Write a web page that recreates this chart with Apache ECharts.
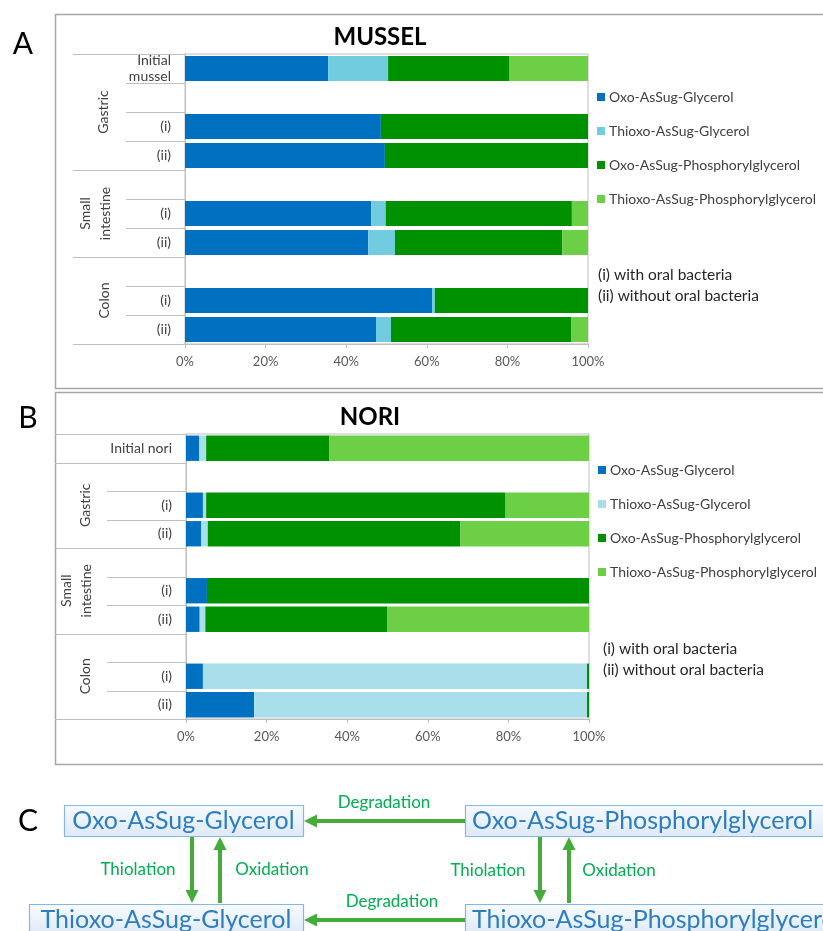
<!DOCTYPE html>
<html><head><meta charset="utf-8">
<script src="https://cdn.jsdelivr.net/npm/echarts@6/dist/echarts.min.js"></script>
<style>html,body{margin:0;padding:0;background:#fff}#c{width:823px;height:931px}</style>
</head><body><div id="c"></div>
<script>
// ---------- data ----------
const categoriesA = ['Initial\nmussel', '', '(i)', '(ii)', '', '(i)', '(ii)', '', '(i)', '(ii)'];
const categoriesB = ['Initial nori', '', '(i)', '(ii)', '', '(i)', '(ii)', '', '(i)', '(ii)'];
const seriesNames = ['Oxo-AsSug-Glycerol', 'Thioxo-AsSug-Glycerol', 'Oxo-AsSug-Phosphorylglycerol', 'Thioxo-AsSug-Phosphorylglycerol'];
const xTicks = [0, 20, 40, 60, 80, 100];

const musselOxoGly    = [35.5, null, 48.6, 49.6, null, 46.2, 45.5, null, 61.3, 47.4];
const musselThioxoGly = [14.9, null, 0,    0,    null, 3.6,  6.6,  null, 0.7,  3.7];
const musselOxoPG     = [30.0, null, 51.4, 50.4, null, 46.2, 41.5, null, 38.0, 44.7];
const musselThioxoPG  = [19.6, null, 0,    0,    null, 4.0,  6.4,  null, 0,    4.2];

const noriOxoGly    = [3.3,  null, 4.2,  3.8,  null, 5.2,  3.4,  null, 4.2,  16.9];
const noriThioxoGly = [1.7,  null, 0.8,  1.6,  null, 0,    1.4,  null, 95.3, 82.6];
const noriOxoPG     = [30.6, null, 74.3, 62.7, null, 94.8, 45.2, null, 0.5,  0.5];
const noriThioxoPG  = [64.4, null, 20.7, 31.9, null, 0,    50.0, null, 0,    0];

const groupsA = ['Gastric', 'Small\nintestine', 'Colon'];
const groupsB = ['Gastric', 'Small\nintestine', 'Colon'];
const notes = ['(i) with oral bacteria', '(ii) without oral bacteria'];

// ---------- style ----------
const FONT = 'Lato';
const colorsA = ['#0070c0', '#72cce0', '#009100', '#6dcf45'];
const colorsB = ['#0070c0', '#a8dfea', '#009100', '#6dcf45'];
const gA = {left: 185, top: 54, width: 403, height: 290};
const gB = {left: 186, top: 434, width: 403, height: 285};
const LINE = '#bfbfbf';

const chart = echarts.init(document.getElementById('c'));

function xAxisFor(gi) {
  return {
    type: 'value', gridIndex: gi, min: xTicks[0], max: xTicks[xTicks.length - 1], interval: 20,
    axisLine: {show: true, lineStyle: {color: LINE}},
    axisTick: {show: true, length: 4, lineStyle: {color: LINE}},
    splitLine: {show: false},
    axisLabel: {formatter: '{value}%', color: '#595959', fontSize: 13, fontFamily: FONT, margin: 11}
  };
}
function yAxisFor(gi, cats) {
  return {
    type: 'category', gridIndex: gi, data: cats, inverse: true,
    axisLine: {show: true, lineStyle: {color: LINE}},
    axisTick: {show: false},
    axisLabel: {color: '#404040', fontSize: 14, fontFamily: FONT, margin: 14, lineHeight: 16, align: 'right'}
  };
}
function mkSeries(gi, arrs, colors, gap) {
  return arrs.map((d, i) => ({
    name: seriesNames[i], type: 'bar', stack: 'g' + gi, xAxisIndex: gi, yAxisIndex: gi,
    data: d, barCategoryGap: gap, itemStyle: {color: colors[i]}, silent: true, animation: false
  }));
}

// separators
function sepLines(g, rows, longKeys, longX, shortX) {
  const out = [];
  const h = g.height / rows;
  for (let k = 0; k <= rows; k++) {
    const y = Math.round(g.top + k * h) + 0.5;
    const x1 = longKeys.includes(k) ? longX : shortX;
    out.push({type: 'line', shape: {x1: x1, y1: y, x2: g.left, y2: y}, style: {stroke: LINE, lineWidth: 1}, silent: true});
  }
  return out;
}
function groupLabels(g, rows, names, spans, xs) {
  const h = g.height / rows;
  return names.map((n, i) => ({
    type: 'text', x: xs[i], y: g.top + (spans[i][0] + spans[i][1]) / 2 * h, rotation: Math.PI / 2,
    style: {text: n, fill: '#404040', font: '14px ' + FONT, textAlign: 'center', textVerticalAlign: 'middle', lineHeight: 20}
  }));
}
function txt(x, y, s, font, fill, align) {
  return {type: 'text', x: x, y: y, style: {text: s, font: font, fill: fill || '#000', textAlign: align || 'left', textVerticalAlign: 'middle'}, silent: true};
}
const ARROW = '#45ab3a';
function arrow(x1, y1, x2, y2) {
  const dx = x2 - x1, dy = y2 - y1, L = Math.hypot(dx, dy), ux = dx / L, uy = dy / L;
  const hl = 13, hw = 6.5;
  const bx = x2 - ux * hl, by = y2 - uy * hl;
  return [
    {type: 'line', shape: {x1: x1, y1: y1, x2: bx, y2: by}, style: {stroke: ARROW, lineWidth: 4}, silent: true},
    {type: 'polygon', shape: {points: [[x2, y2], [bx - uy * hw, by + ux * hw], [bx + uy * hw, by - ux * hw]]}, style: {fill: ARROW}, silent: true}
  ];
}
const boxFill = {type: 'linear', x: 0, y: 0, x2: 0, y2: 1, colorStops: [{offset: 0, color: '#f7fbff'}, {offset: 1, color: '#dde9f6'}]};
function box(x, y, w, h) {
  return {type: 'rect', shape: {x: x + 0.5, y: y + 0.5, width: w, height: h}, style: {fill: boxFill, stroke: '#86b7e0', lineWidth: 1.2}, silent: true};
}
const BOXTXT = '#2e7dbf';
const GRN = '#00b050';
const NOTEF = '15.5px ' + FONT;
const CF = '25px ' + FONT;
const GF = '17px ' + FONT;

const graphics = [].concat(
  // frames
  [{type: 'rect', shape: {x: 55.5, y: 14.5, width: 800, height: 374}, style: {fill: 'none', stroke: '#a6a6a6', lineWidth: 1.5}, silent: true},
   {type: 'rect', shape: {x: 55.5, y: 392.5, width: 800, height: 372}, style: {fill: 'none', stroke: '#a6a6a6', lineWidth: 1.5}, silent: true}],
  sepLines(gA, 10, [0, 4, 7, 10], 73, 126),
  sepLines(gB, 10, [0, 1, 4, 7, 10], 55, 107),
  groupLabels(gA, 10, groupsA, [[0, 4], [4, 7], [7, 10]], [103, 95, 104]),
  groupLabels(gB, 10, groupsB, [[1, 4], [4, 7], [7, 10]], [85, 76, 85]),
  [
    txt(23, 44, 'A', '30px ' + FONT, '#000', 'center'),
    txt(28, 418, 'B', '30px ' + FONT, '#000', 'center'),
    txt(28, 821, 'C', '30px ' + FONT, '#000', 'center'),
    txt(380, 37, 'MUSSEL', 'bold 24px ' + FONT, '#000', 'center'),
    txt(370, 417, 'NORI', 'bold 24px ' + FONT, '#000', 'center'),
    txt(598, 275, notes[0], NOTEF, '#262626'),
    txt(598, 296, notes[1], NOTEF, '#262626'),
    txt(603, 649, notes[0], NOTEF, '#262626'),
    txt(603, 670, notes[1], NOTEF, '#262626')
  ],
  // panel C
  [box(64, 805, 239, 31), box(29, 904, 274, 31), box(465, 805, 380, 31), box(465, 904, 380, 31),
   txt(183.5, 821, 'Oxo-AsSug-Glycerol', CF, BOXTXT, 'center'),
   txt(166, 920, 'Thioxo-AsSug-Glycerol', CF, BOXTXT, 'center'),
   txt(472, 821, 'Oxo-AsSug-Phosphorylglycerol', CF, BOXTXT, 'left'),
   txt(472, 920, 'Thioxo-AsSug-Phosphorylglycerol', CF, BOXTXT, 'left')],
  arrow(465, 821, 304, 821),
  arrow(465, 920, 304, 920),
  arrow(192, 837, 192, 903),
  arrow(220, 903, 220, 837),
  arrow(540, 837, 540, 903),
  arrow(569, 903, 569, 837),
  [txt(384, 803, 'Degradation', GF, GRN, 'center'),
   txt(392, 902, 'Degradation', GF, GRN, 'center'),
   txt(138, 870, 'Thiolation', GF, GRN, 'center'),
   txt(272, 870, 'Oxidation', GF, GRN, 'center'),
   txt(488, 871, 'Thiolation', GF, GRN, 'center'),
   txt(619, 871, 'Oxidation', GF, GRN, 'center')]
);

function legendFor(top, left, colors) {
  return {
    orient: 'vertical', left: left, top: top, itemWidth: 8, itemHeight: 8, itemGap: 20, icon: 'rect',
    selectedMode: false,
    textStyle: {color: '#404040', fontSize: 14, fontFamily: FONT, padding: [0, 0, 0, -1]},
    data: seriesNames.map((n, i) => ({name: n, itemStyle: {color: colors[i]}}))
  };
}

chart.setOption({
  animation: false,
  grid: [
    Object.assign({show: true, borderColor: LINE, borderWidth: 1, containLabel: false}, gA),
    Object.assign({show: true, borderColor: LINE, borderWidth: 1, containLabel: false}, gB)
  ],
  xAxis: [xAxisFor(0), xAxisFor(1)],
  yAxis: [yAxisFor(0, categoriesA), yAxisFor(1, categoriesB)],
  legend: [legendFor(85, 592, colorsA), legendFor(458, 593, colorsB)],
  series: mkSeries(0, [musselOxoGly, musselThioxoGly, musselOxoPG, musselThioxoPG], colorsA, '14%')
    .concat(mkSeries(1, [noriOxoGly, noriThioxoGly, noriOxoPG, noriThioxoPG], colorsB, '11%')),
  graphic: graphics
});
</script></body></html>
